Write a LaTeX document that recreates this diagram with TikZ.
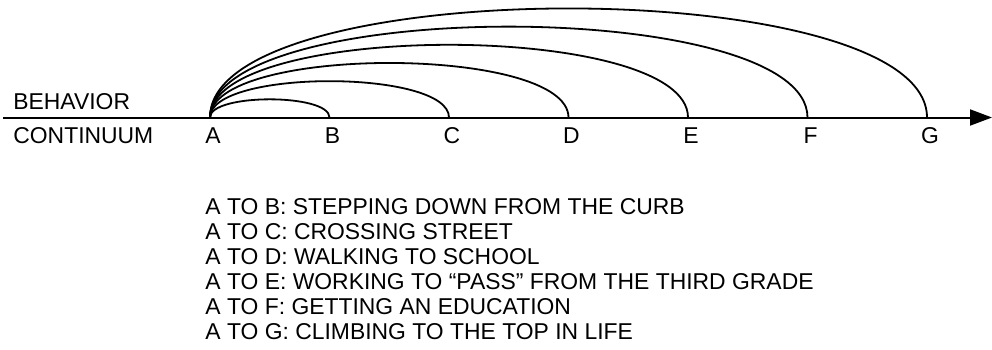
\documentclass[tikz,border=0pt]{standalone}
\usepackage{fontspec}
\setmainfont{Liberation Sans}
\usetikzlibrary{arrows.meta}

\begin{document}
\begin{tikzpicture}[x=0.5pt, y=0.5pt,
  every node/.style={inner sep=0pt},
  lbl/.style={font=\fontsize{11.45}{12.5}\selectfont},
  legend/.style={lbl, align=left, anchor=north west},
  axis/.style={-{Triangle[length=11pt, width=8pt]}, line width=1pt},
  span/.style={line width=0.9pt, out=90, in=90, looseness=0.52}]
\useasboundingbox (0,0) rectangle (992,349);
% the continuum
\coordinate (start) at (3,231.5);
\coordinate (end) at (992,231.5);
\draw[axis] (start) -- (end);
\node[lbl, anchor=west] (behavior) at (13,247.5) {BEHAVIOR};
\node[lbl, anchor=west] (continuum) at (13,213.5) {CONTINUUM};
% points and their letters
\foreach \pt [count=\i from 0] in {A,B,C,D,E,F,G} {
  \coordinate (\pt) at (210+119.5*\i,231.5);
  \node[lbl] (lbl\pt) at (213+119.5*\i,213.5) {\pt};
}
% spans from A
\foreach \pt in {B,C,D,E,F,G}
  \draw[span] (A) to (\pt);
% key
\node[legend] (key) at (205,151) {%
  A TO B: STEPPING DOWN FROM THE CURB\\
  A TO C: CROSSING STREET\\
  A TO D: WALKING TO SCHOOL\\
  A TO E: WORKING TO “PASS” FROM THE THIRD GRADE\\
  A TO F: GETTING AN EDUCATION\\
  A TO G: CLIMBING TO THE TOP IN LIFE};
\end{tikzpicture}
\end{document}
